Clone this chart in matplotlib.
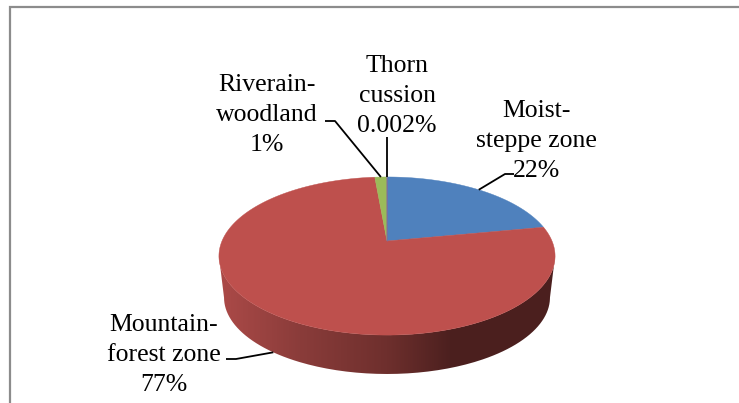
#!/usr/bin/env python3
"""Pseudo-3D pie of vegetation zones, perspective drawn by hand (no 3D pie in matplotlib)."""
import numpy as np
import matplotlib
matplotlib.use("Agg")
import matplotlib.pyplot as plt
from matplotlib.path import Path
from matplotlib.patches import PathPatch

# ── data ─────────────────────────────────────────────────────────────────────
ZONES = ["Moist-\nsteppe zone", "Mountain-\nforest zone", "Riverain-\nwoodland", "Thorn\ncussion"]
VALUES = [22.0, 76.6, 1.4, 0.002]
PCT_LABELS = ["22%", "77%", "1%", "0.002%"]
COLORS = ["#4F81BD", "#BE504D", "#9BBB59", "#8064A2"]

W, H = 739, 403

# perspective of the disc, in pixels
CX = 387.0
PERSP = 0.19
TOP = dict(y0=241.0, a=165.0, b=76.2)
BOT = dict(y0=283.0, a=160.0, b=73.7)


def project(deg, ring):
    """Clockwise angle from 12 o'clock -> screen xy on a ring."""
    t = np.radians(deg)
    u, v = np.sin(t), np.cos(t)
    d = 1 + PERSP * v
    return CX + ring["a"] * u / d, ring["y0"] - ring["b"] * v / d


fig = plt.figure(figsize=(W / 100, H / 100), dpi=100, facecolor="white")
ax = fig.add_axes([0, 0, 1, 1])

# chart frame, runs off the crop on the other sides
ax.plot([9.5, 9.5, W], [H, 6.5, 6.5], color="#8C8C8C", lw=1.6, solid_joinstyle="miter", zorder=1)

# side wall: horizontal gradient clipped to the outline of both rims
# 101..259 deg are the points where the rims turn back (x extreme under perspective)
angles = np.linspace(101, 259, 159)
tx, ty = project(angles, TOP)
bx, by = project(angles, BOT)
outline = np.column_stack([np.r_[tx, bx[::-1], tx[0]], np.r_[ty, by[::-1], ty[0]]])

grad_x = np.arange(215, 560)
grad = np.stack([
    np.interp(grad_x, [219, 300, 387, 450, 555], [0xAC, 0x8A, 0x6E, 0x4C, 0x4B]),
    np.interp(grad_x, [219, 300, 387, 450, 555], [0x4A, 0x3C, 0x2F, 0x20, 0x1F]),
    np.interp(grad_x, [219, 300, 387, 450, 555], [0x48, 0x3A, 0x2D, 0x1F, 0x1E]),
], axis=-1)[None, :, :] / 255
im = ax.imshow(grad, extent=(215, 560, 380, 240), aspect="auto", zorder=2, interpolation="bilinear")
clip = PathPatch(Path(outline), transform=ax.transData, fc="none", ec="none")
ax.add_patch(clip)
im.set_clip_path(clip)

# top face
shares = np.array(VALUES) / sum(VALUES) * 360
edges = np.concatenate([[0], np.cumsum(shares)])
mids = (edges[:-1] + edges[1:]) / 2
for start, end, col in zip(edges[:-1], edges[1:], COLORS):
    th = np.linspace(start, end, max(int(end - start) * 2, 2))
    xs, ys = project(th, TOP)
    ax.fill(np.r_[CX, xs], np.r_[TOP["y0"], ys], color=col, lw=0.3, zorder=3)
ax.plot([CX, CX], [TOP["y0"], project(0, TOP)[1]], color=COLORS[3], lw=0.5, alpha=0.6, zorder=4)

# leader lines
LEAD = dict(color="black", lw=1.3, zorder=5, solid_capstyle="butt")
x, y = project(mids[0], TOP)
ax.plot([x, 505, 514], [y, 174, 174], **LEAD)
x, y = project(mids[1], BOT)
ax.plot([226, 236, x], [359, 359, y], **LEAD)
x, y = project(mids[2], TOP)
ax.plot([325, 335, x], [121, 121, y], **LEAD)
x, y = project(mids[3], TOP)
ax.plot([x, x], [137, y], **LEAD)

# labels
TXT = dict(family="Liberation Serif", fontsize=18.5, ha="center", va="center",
           color="black", linespacing=1.45, zorder=6)
for name, pct, (lx, ly) in zip(ZONES, PCT_LABELS,
                               [(536, 141), (164, 355), (267, 115), (397, 96)]):
    ax.text(lx, ly, f"{name}\n{pct}", **TXT)

ax.set_xlim(0, W)
ax.set_ylim(H, 0)
ax.axis("off")

fig.savefig("out.png", dpi=100)
